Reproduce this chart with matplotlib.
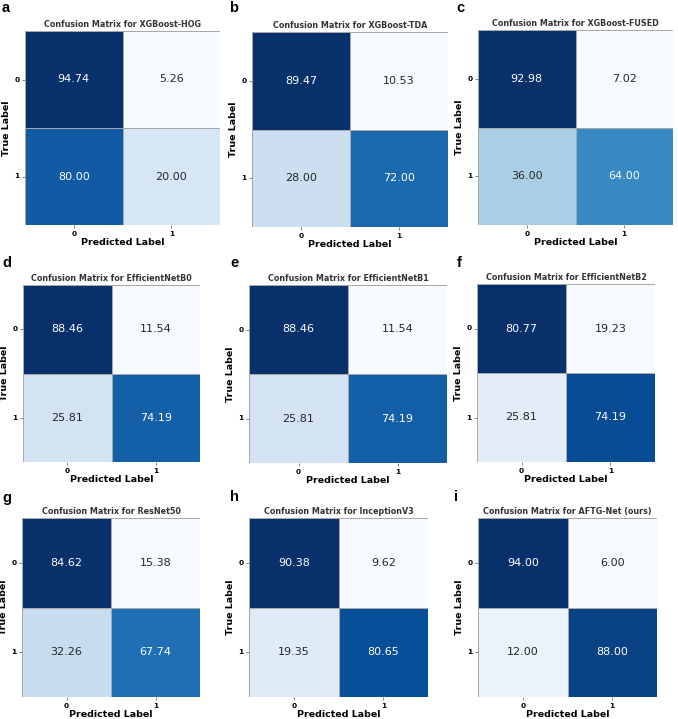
import numpy as np
import seaborn as sns
from matplotlib import pyplot as plt

# panel data
panel_letters = ['a', 'b', 'c', 'd', 'e', 'f', 'g', 'h', 'i']
model_names = ['XGBoost-HOG', 'XGBoost-TDA', 'XGBoost-FUSED',
               'EfficientNetB0', 'EfficientNetB1', 'EfficientNetB2',
               'ResNet50', 'InceptionV3', 'AFTG-Net (ours)']
class_labels = ['0', '1']
cm_xgb_hog = [[94.74, 5.26], [80.00, 20.00]]
cm_xgb_tda = [[89.47, 10.53], [28.00, 72.00]]
cm_xgb_fused = [[92.98, 7.02], [36.00, 64.00]]
cm_effb0 = [[88.46, 11.54], [25.81, 74.19]]
cm_effb1 = [[88.46, 11.54], [25.81, 74.19]]
cm_effb2 = [[80.77, 19.23], [25.81, 74.19]]
cm_resnet50 = [[84.62, 15.38], [32.26, 67.74]]
cm_inceptionv3 = [[90.38, 9.62], [19.35, 80.65]]
cm_aftg = [[94.00, 6.00], [12.00, 88.00]]
matrices = [cm_xgb_hog, cm_xgb_tda, cm_xgb_fused,
            cm_effb0, cm_effb1, cm_effb2,
            cm_resnet50, cm_inceptionv3, cm_aftg]

W, H = 678, 719
# heatmap boxes in pixels: x0, y0, x1, y1 (the panels are not all the same size)
boxes = [(25, 31, 220, 225), (252, 32, 448, 227), (478, 30, 673, 225),
         (23, 285, 200, 462), (249, 285, 447, 463), (477, 284, 655, 462),
         (22, 518, 200, 697), (249, 518, 428, 697), (478, 518, 657, 697)]
letter_pos = [(2, 8), (229, 8), (456, 8),
              (2, 263), (230, 263), (457, 263),
              (2, 498), (230, 497), (454, 497)]

fig = plt.figure(figsize=(W / 100, H / 100), dpi=100)

for k, (cm, name, box) in enumerate(zip(matrices, model_names, boxes)):
    x0, y0, x1, y1 = box
    ax = fig.add_axes([x0 / W, 1 - y1 / H, (x1 - x0) / W, (y1 - y0) / H])
    sns.heatmap(np.array(cm), annot=True, fmt='.2f', cmap='Blues', cbar=False,
                linewidths=0.5, linecolor='#a8a8a8', ax=ax,
                xticklabels=class_labels, yticklabels=class_labels,
                annot_kws={'fontsize': 8})
    ax.set_title(f'Confusion Matrix for {name}', fontsize=5.8,
                 fontweight='bold', color='#333333', pad=3)
    ax.set_xlabel('Predicted Label', fontsize=6.8, fontweight='bold', labelpad=1)
    ax.set_ylabel('True Label', fontsize=6.8, fontweight='bold', labelpad=2)
    ax.tick_params(axis='both', labelsize=5.3, length=2, width=0.5,
                   color='#555555', pad=2)
    for t in ax.get_xticklabels() + ax.get_yticklabels():
        t.set_fontweight('bold')
    plt.setp(ax.get_yticklabels(), rotation=0)
    lx, ly = letter_pos[k]
    fig.text(lx / W, 1 - ly / H, panel_letters[k], fontsize=10.5,
             fontweight='bold', family='Liberation Sans', va='center', ha='left')

plt.savefig('out.png', dpi=100)
